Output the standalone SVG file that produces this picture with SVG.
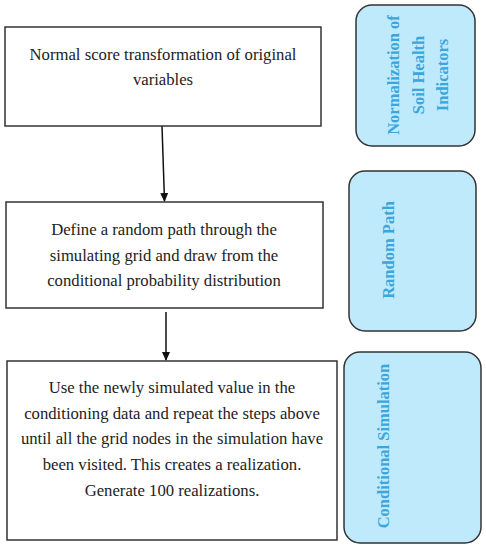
<svg xmlns="http://www.w3.org/2000/svg" width="486" height="550" viewBox="0 0 486 550">
<style>
.box{fill:#ffffff;stroke:#333333;stroke-width:1.5}
.side{fill:#bfeafc;stroke:#333333;stroke-width:1.5}
.t{font-family:"Liberation Serif",serif;font-size:16.7px;fill:#222222;text-anchor:middle}
.s{font-family:"Liberation Serif",serif;font-size:16.5px;font-weight:bold;fill:#3aa6dc;text-anchor:middle}
.con{stroke:#111111;stroke-width:1.5;fill:none}
</style>
<defs>
<marker id="ah" markerWidth="10" markerHeight="10" refX="8" refY="5" orient="auto" markerUnits="userSpaceOnUse">
<path d="M0,1 L9,5 L0,9 Z" fill="#111111"/>
</marker>
</defs>
<rect width="486" height="550" fill="#ffffff"/>
<g id="connectors">
<line class="con" x1="162" y1="126" x2="164.5" y2="201" marker-end="url(#ah)"/>
<line class="con" x1="166" y1="312" x2="166" y2="360" marker-end="url(#ah)"/>
</g>
<g id="step1">
<rect class="box" x="5" y="27" width="316" height="99"/>
<text class="t" x="163" y="60">Normal score transformation of original</text>
<text class="t" x="163" y="85">variables</text>
</g>
<g id="step2">
<rect class="box" x="6" y="202" width="317" height="106"/>
<text class="t" x="164" y="235">Define a random path through the</text>
<text class="t" x="164" y="261">simulating grid and draw from the</text>
<text class="t" x="164" y="286">conditional probability distribution</text>
</g>
<g id="step3">
<rect class="box" x="7" y="361" width="330" height="179"/>
<text class="t" x="172" y="393">Use the newly simulated value in the</text>
<text class="t" x="172" y="419">conditioning data and repeat the steps above</text>
<text class="t" x="172" y="444">until all the grid nodes in the simulation have</text>
<text class="t" x="172" y="470">been visited. This creates a realization.</text>
<text class="t" x="172" y="496">Generate 100 realizations.</text>
</g>
<g id="label1">
<rect class="side" x="356" y="5" width="119" height="141" rx="16"/>
<text class="s" transform="translate(399,75) rotate(-90)">Normalization of</text>
<text class="s" transform="translate(424,75) rotate(-90)">Soil Health</text>
<text class="s" transform="translate(448,75) rotate(-90)">Indicators</text>
</g>
<g id="label2">
<rect class="side" x="349" y="171" width="127" height="160" rx="16"/>
<text class="s" transform="translate(394,250) rotate(-90)">Random Path</text>
</g>
<g id="label3">
<rect class="side" x="344" y="352" width="137" height="191" rx="16"/>
<text class="s" transform="translate(389,446) rotate(-90)">Conditional Simulation</text>
</g>
</svg>
